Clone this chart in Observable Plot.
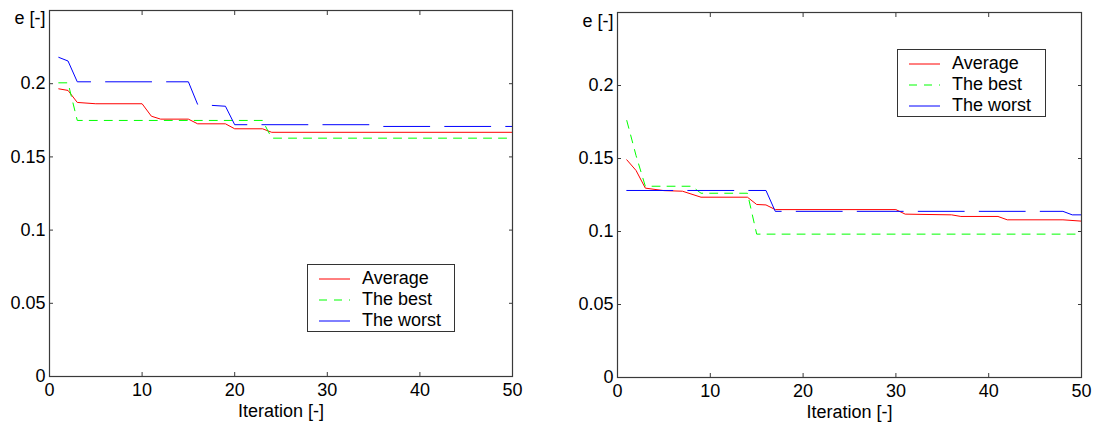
<!DOCTYPE html>
<html><head><meta charset="utf-8">
<script src="https://cdn.jsdelivr.net/npm/d3@7"></script>
<script src="https://cdn.jsdelivr.net/npm/@observablehq/plot@0.6"></script>
<style>
body{margin:0;background:#fff;font-family:"Liberation Sans",Arial,sans-serif;}
#wrap{position:relative;width:1093px;height:423px;display:flex;}
.legend{position:absolute;border:1px solid #333;background:#fff;font-size:18px;color:#000;box-sizing:border-box;padding-top:3px;}
.legend .row{height:21px;display:flex;align-items:center;}
.legend svg{margin-left:11px;margin-right:12px;flex:none;}
</style></head>
<body><div id="wrap"></div>
<script>
// ---- data ----
const seriesNames = ["Average", "The best", "The worst"];
const seriesColors = ["#ff0000", "#00ff00", "#0000ff"];
const seriesDash = [null, "8,7", "46,15"];
const xTicks = [0, 10, 20, 30, 40, 50];
const yTicks = [0, 0.05, 0.1, 0.15, 0.2, 0.25];
const yTickLabels = [0, 0.05, 0.1, 0.15, 0.2];
const xLabel = "Iteration [-]";
const yLabel = "e [-]";

// left panel
const leftAvgX = [1, 2, 3, 5, 10, 11, 12, 15, 16, 19, 20, 23, 24, 50];
const leftAvgY = [0.1965, 0.1954, 0.1872, 0.1863, 0.1863, 0.1778, 0.1758, 0.1758, 0.1726, 0.1726, 0.1692, 0.1692, 0.1668, 0.1668];
const leftBestX = [1, 2, 3, 23, 24, 50];
const leftBestY = [0.2006, 0.2006, 0.1749, 0.1749, 0.1628, 0.1628];
const leftWorstX = [1, 2, 3, 15, 16, 19, 20, 35, 36, 50];
const leftWorstY = [0.218, 0.2155, 0.2013, 0.2013, 0.1858, 0.1846, 0.172, 0.172, 0.1708, 0.1708];

// right panel
const rightAvgX = [1, 2, 3, 5, 7, 9, 14, 15, 16, 17, 30, 31, 36, 37, 41, 42, 48, 50];
const rightAvgY = [0.1491, 0.1418, 0.1297, 0.128, 0.1276, 0.1235, 0.1235, 0.1185, 0.1182, 0.115, 0.115, 0.1119, 0.1114, 0.1103, 0.1103, 0.108, 0.108, 0.1071];
const rightBestX = [1, 2, 3, 8, 9, 14, 15, 50];
const rightBestY = [0.176, 0.152, 0.131, 0.131, 0.1262, 0.1262, 0.0982, 0.0982];
const rightWorstX = [1, 16, 17, 48, 49, 50];
const rightWorstY = [0.1281, 0.1281, 0.1138, 0.1138, 0.1114, 0.1114];

const frameColor = "#3a3a3a";

function panel(xs, ys, o) {
  const lines = xs.map((xArr, k) => Plot.line(xArr.map((x, i) => ({x, y: ys[k][i]})), {
    x: "x", y: "y", stroke: seriesColors[k], strokeWidth: 1,
    strokeDasharray: seriesDash[k]
  }));
  return Plot.plot({
    width: o.width, height: 423,
    marginLeft: o.ml, marginRight: o.mr, marginTop: o.mt, marginBottom: o.mb,
    x: {domain: [0, 50]},
    y: {domain: [0, 0.25]},
    style: {fontFamily: '"Liberation Sans", Arial, sans-serif', fontSize: "18px", color: "#000", background: "#fff", overflow: "visible"},
    marks: [
      Plot.axisX({ticks: xTicks, tickSize: 0, tickPadding: 7, tickFormat: d => String(d), label: null}),
      Plot.axisX({ticks: xTicks, tickSize: -4, tickFormat: () => "", label: null, stroke: frameColor}),
      Plot.axisX({anchor: "top", ticks: xTicks, tickSize: -4, tickFormat: () => "", label: null, stroke: frameColor}),
      Plot.axisY({ticks: yTickLabels, tickSize: 0, tickPadding: 4, tickFormat: d => String(d), label: null}),
      Plot.axisY({ticks: yTicks, tickSize: -4, tickFormat: () => "", label: null, stroke: frameColor}),
      Plot.axisY({anchor: "right", ticks: yTicks, tickSize: -4, tickFormat: () => "", label: null, stroke: frameColor}),
      ...lines,
      Plot.frame({stroke: frameColor, strokeWidth: 1.2}),
      Plot.text([yLabel], {text: d => d, frameAnchor: "top-left", dx: -4, dy: o.ldy, textAnchor: "end", fontSize: 18}),
      Plot.text([xLabel], {text: d => d, frameAnchor: "bottom", dy: 40, fontSize: 18})
    ]
  });
}

function legend(left, top, width, height) {
  const d = document.createElement("div");
  d.className = "legend";
  d.style.left = left + "px"; d.style.top = top + "px";
  d.style.width = width + "px"; d.style.height = height + "px";
  seriesNames.forEach((name, k) => {
    const row = document.createElement("div");
    row.className = "row";
    row.innerHTML = `<svg width="31" height="4"><line x1="0" x2="31" y1="2" y2="2" stroke="${seriesColors[k]}" stroke-width="1" ${seriesDash[k] ? `stroke-dasharray="${seriesDash[k]}"` : ""}/></svg><span>${name}</span>`;
    d.appendChild(row);
  });
  return d;
}

const wrap = document.getElementById("wrap");
wrap.appendChild(panel([leftAvgX, leftBestX, leftWorstX], [leftAvgY, leftBestY, leftWorstY], {width: 546, ml: 49, mr: 34, mt: 10, mb: 47, ldy: 1}));
wrap.appendChild(panel([rightAvgX, rightBestX, rightWorstX], [rightAvgY, rightBestY, rightWorstY], {width: 547, ml: 71, mr: 12, mt: 12, mb: 46, ldy: 2}));
wrap.appendChild(legend(307, 264, 148, 68));
wrap.appendChild(legend(897, 49, 149, 68));
</script></body></html>
